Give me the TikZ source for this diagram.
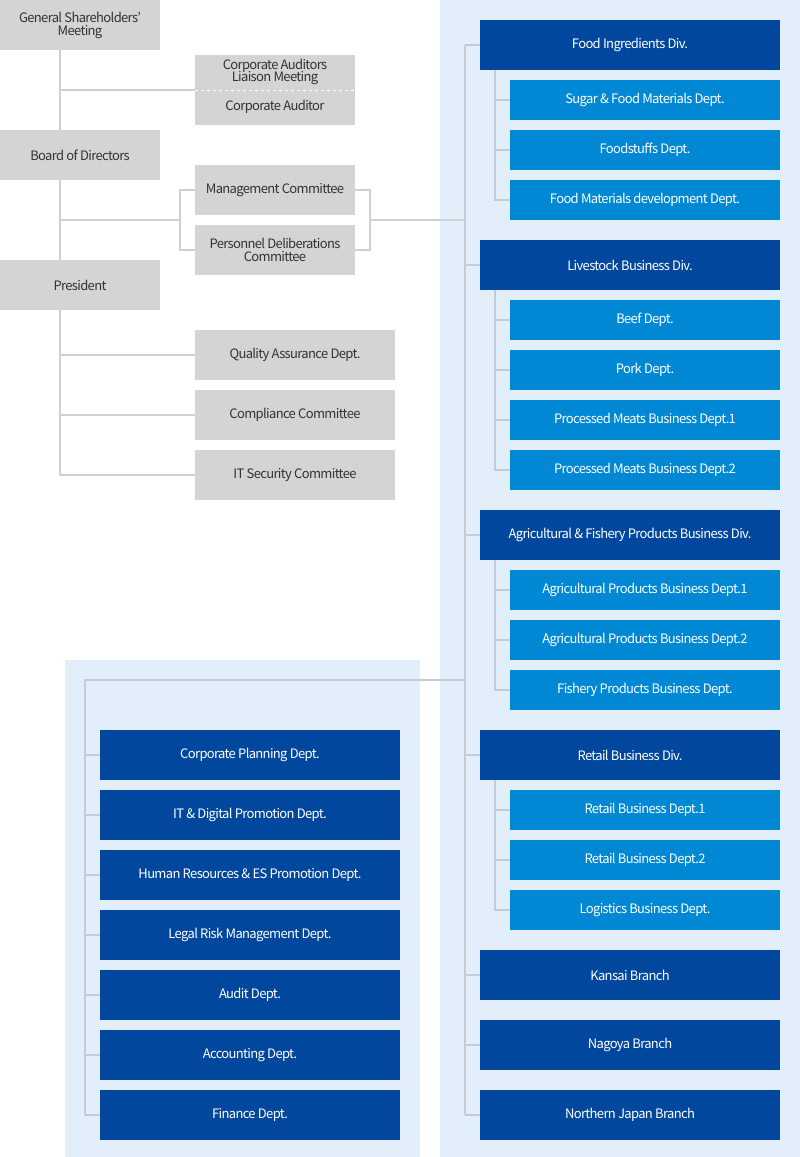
\documentclass[tikz,border=0pt]{standalone}
\usepackage{fontspec}
\setmainfont{Noto Sans CJK JP}[LetterSpace=-5]
\definecolor{dk}{HTML}{00479D}
\definecolor{lt}{HTML}{0088D4}
\definecolor{gb}{HTML}{D4D4D4}
\definecolor{pan}{HTML}{E3EEFB}
\definecolor{ln}{HTML}{D0D0D0}
\definecolor{ln2}{HTML}{C5CBD3}
\definecolor{tx}{HTML}{333333}
\begin{document}
\begin{tikzpicture}[x=1pt,y=-1pt,
  box/.style={inner sep=0pt,align=center,font=\fontsize{13}{13}\selectfont},
  g/.style={box,fill=gb,text=tx},
  d/.style={box,fill=dk,text=white},
  l/.style={box,fill=lt,text=white},
  c/.style={draw=ln,line width=1.3pt},
  c2/.style={draw=ln2,line width=1.3pt}]
\useasboundingbox (0,0) rectangle (800,1157);
\fill[pan] (440,0) rectangle (800,1157);
\fill[pan] (65,660) rectangle (420,1157);
% left top spine
\coordinate (s1) at (60,50); \coordinate (s2) at (60,475);
\draw[c] (s1) -- (s2);
\node[g,minimum width=160,minimum height=50] (gsm) at (80,25) {General Shareholders'\\Meeting};
\node[g,minimum width=160,minimum height=50] (bod) at (80,155) {Board of Directors};
\node[g,minimum width=160,minimum height=50] (pres) at (80,285) {President};
\node[g,minimum width=160,minimum height=70] (aud) at (275,90) {};
\node[box,text=tx] at (275,72) {Corporate Auditors\\[-2pt]Liaison Meeting};
\node[box,text=tx] at (275,107) {Corporate Auditor};
\draw[white,dashed,line width=1pt] (195,90) -- (355,90);
\coordinate (a0) at (60,90);
\draw[c] (a0) -- (aud.west);
\node[g,minimum width=160,minimum height=50] (mc) at (275,190) {Management Committee};
\node[g,minimum width=160,minimum height=50] (pd) at (275,250) {Personnel Deliberations\\Committee};
\coordinate (b0) at (60,220); \coordinate (bl) at (180,220); \coordinate (br) at (370,220); \coordinate (bx) at (465,220);
\draw[c] (b0) -- (bl);
\draw[c] (mc.west) -- (180,190) -- (180,250) -- (pd.west);
\draw[c] (mc.east) -- (370,190) -- (370,250) -- (pd.east);
\draw[c] (br) -- (bx);
\foreach \n/\t/\y in {qa/Quality Assurance Dept./355, cc/Compliance Committee/415, it/IT Security Committee/475}{
  \node[g,minimum width=200,minimum height=50] (\n) at (295,\y) {\t};
  \coordinate (\n0) at (60,\y);
  \draw[c] (\n0) -- (\n.west);
}
% right spine
\draw[c2] (465,45) -- (465,1115);
\foreach \n/\t/\y in {fid/Food Ingredients Div./45, lbd/Livestock Business Div./265, afd/Agricultural \& Fishery Products Business Div./535, rbd/Retail Business Div./755, kb/Kansai Branch/975, nb/Nagoya Branch/1045, njb/Northern Japan Branch/1115}{
  \node[d,minimum width=300,minimum height=50] (\n) at (630,\y) {\t};
  \coordinate (\n0) at (465,\y);
  \draw[c2] (\n0) -- (\n.west);
}
\foreach \p/\n/\t/\y in {
 fid/f1/Sugar \& Food Materials Dept./100, fid/f2/Foodstuffs Dept./150, fid/f3/Food Materials development Dept./200,
 lbd/l1/Beef Dept./320, lbd/l2/Pork Dept./370, lbd/l3/Processed Meats Business Dept.1/420, lbd/l4/Processed Meats Business Dept.2/470,
 afd/a1/Agricultural Products Business Dept.1/590, afd/a2/Agricultural Products Business Dept.2/640, afd/a3/Fishery Products Business Dept./690,
 rbd/r1/Retail Business Dept.1/810, rbd/r2/Retail Business Dept.2/860, rbd/r3/Logistics Business Dept./910}{
  \node[l,minimum width=270,minimum height=40] (\n) at (645,\y) {\t};
  \draw[c2] (\p.south -| 495,0) |- (\n.west);
}
% bottom left
\coordinate (h0) at (465,680); \coordinate (h1) at (85,680); \coordinate (h2) at (85,1115);
\draw[c2] (h0) -- (h1) -- (h2);
\foreach \n/\t/\y in {cp/Corporate Planning Dept./755, itd/IT \& Digital Promotion Dept./815, hr/Human Resources \& ES Promotion Dept./875, lr/Legal Risk Management Dept./935, ad/Audit Dept./995, ac/Accounting Dept./1055, fi/Finance Dept./1115}{
  \node[d,minimum width=300,minimum height=50] (\n) at (250,\y) {\t};
  \coordinate (\n0) at (85,\y);
  \draw[c2] (\n0) -- (\n.west);
}
\end{tikzpicture}
\end{document}
